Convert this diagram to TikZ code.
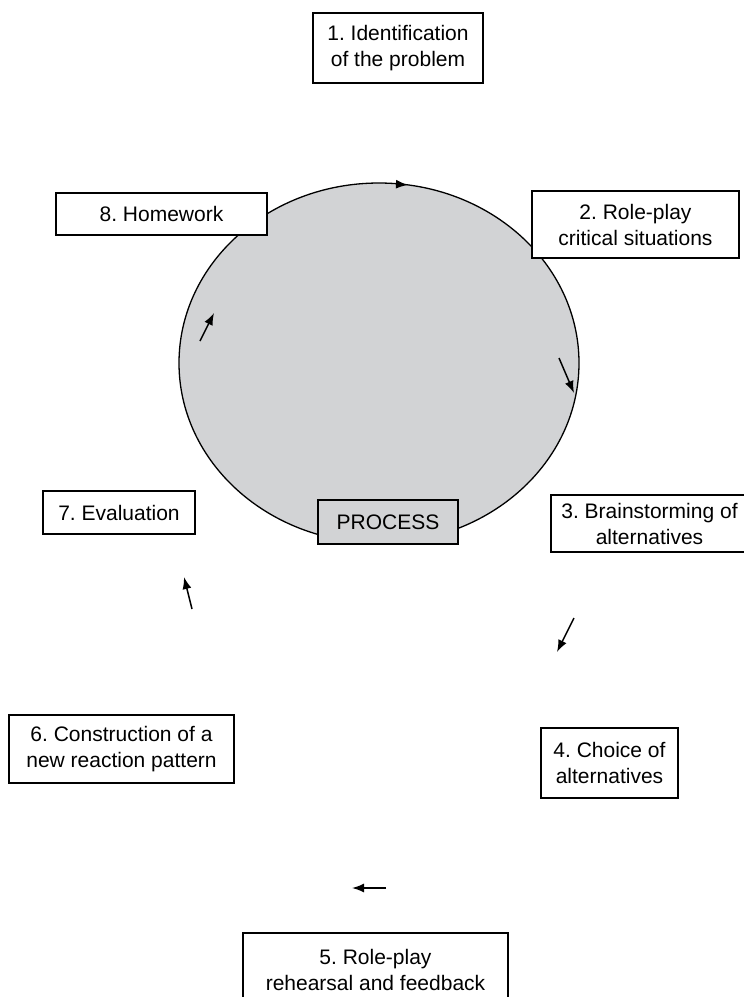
\documentclass[tikz,border=0pt]{standalone}
\usepackage{fontspec}
\setmainfont{Liberation Sans}
\usetikzlibrary{arrows.meta}
\definecolor{procgray}{RGB}{210,211,213}
\frenchspacing

\begin{document}
\begin{tikzpicture}[x=1pt, y=-1pt,
    box/.style={draw, fill=white, line width=1.3pt, align=center, inner sep=0pt, font=\fontsize{21}{26}\selectfont}, % all step boxes
    arr/.style={-{Latex[length=12pt,width=9pt]}, line width=1.5pt}
    ]
\useasboundingbox (0,0) rectangle (744,997);
\draw[fill=procgray, line width=1.3pt] (379,363) ellipse (200 and 180);

\node[box, minimum width=170, minimum height=70] (1) at (398,48) {1. Identification\\of the problem};
\node[box, minimum width=207, minimum height=67] (2) at (635.5,224.5) {2. Role-play\\critical situations};
\node[box, minimum width=197, minimum height=57] (3) at (649.5,523.5) {3. Brainstorming of\\alternatives};
\node[box, minimum width=137, minimum height=70] (4) at (609.5,763) {4. Choice of\\alternatives};
\node[box, minimum width=265, minimum height=74] (5) at (375.5,970) {5. Role-play\\rehearsal and feedback};
\node[box, minimum width=225, minimum height=68] (6) at (121.5,749) {6. Construction of a\\new reaction pattern};
\node[box, minimum width=152, minimum height=43] (7) at (119,512.5) {7. Evaluation};
\node[box, minimum width=211, minimum height=42] (8) at (161.5,214) {8. Homework};
\node[box, fill=procgray, minimum width=140, minimum height=44] (p) at (388,522) {PROCESS};

\coordinate (t1) at (396,184.2); \coordinate (h1) at (408,184.9);
\coordinate (t2) at (559,358);   \coordinate (h2) at (574,393);
\coordinate (t3) at (574,618);   \coordinate (h3) at (557,652);
\coordinate (t5) at (386,888);   \coordinate (h5) at (352,888);
\coordinate (t6) at (192,609);   \coordinate (h6) at (184,577);
\coordinate (t7) at (200,341);   \coordinate (h7) at (214,313);
\draw[arr] (t1) -- (h1);
\draw[arr] (t2) -- (h2);
\draw[arr] (t3) -- (h3);
\draw[arr] (t5) -- (h5);
\draw[arr] (t6) -- (h6);
\draw[arr] (t7) -- (h7);
\end{tikzpicture}
\end{document}
